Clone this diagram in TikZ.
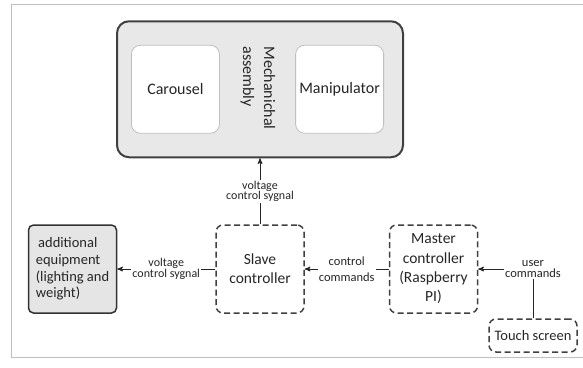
\documentclass[tikz,border=0pt]{standalone}
\usepackage{fontspec}
\setmainfont{Carlito}
\usetikzlibrary{arrows,positioning}
\tikzset{
    %Define standard arrow tip
    >=stealth',
    %Define style for the solid grey boxes
    block/.style={
           rectangle,
           rounded corners=5pt,
           draw=black!80, line width=1.5pt,
           fill=black!10,
           minimum width=88pt,
           minimum height=88pt,
           font=\fontsize{14.5}{16.7}\selectfont,
           text=black!85,
           align=left},
    frame/.style={
           rectangle,
           rounded corners=12pt,
           draw=black!75, line width=2pt,
           fill=black!9,
           minimum width=286pt,
           minimum height=136pt},
    inner/.style={
           rectangle,
           rounded corners=9pt,
           draw=black!25, line width=0.8pt,
           fill=white,
           minimum width=88pt,
           minimum height=88pt,
           font=\fontsize{16}{19}\selectfont,
           text=black!85,
           text centered},
    %Define style for the dashed boxes
    dashbox/.style={
           rectangle,
           rounded corners=7pt,
           draw=black!75, line width=1.5pt,
           dash pattern=on 6pt off 3.5pt,
           minimum width=88pt,
           minimum height=88pt,
           font=\fontsize{15.5}{19.3}\selectfont,
           text=black!85,
           align=center},
    % Define style for connector labels
    lbl/.style={
           fill=white,
           inner sep=1pt,
           font=\fontsize{12}{10.5}\selectfont,
           text=black!85,
           align=center},
    % Define arrow style
    pil/.style={
           ->,
           line width=1pt,
           black!85}
}
\begin{document}
\begin{tikzpicture}[x=1pt,y=-1pt]
\useasboundingbox (0,0) rectangle (583,367);
\draw[black!25, line width=1pt] (583,4) -- (11,4) -- (11,357) -- (583,357);
% controllers row
\node[dashbox](slave) at (260,269){Slave\\controller};
\node[dashbox, right=84pt of slave](master){Master\\controller\\(Raspberry\\PI)};
\node[block, left=98pt of slave](equip){\,additional\\equipment\\(lighting and\\weight)};
% mechanical part
\node[frame, above=66pt of slave](assembly){};
\node[inner, right=15pt of assembly.west](carousel){Carousel};
\node[inner, left=20pt of assembly.east](manip){Manipulator};
\node[rotate=-90, align=left, text=black!85,
  font=\fontsize{16}{21}\selectfont](mech) at (258,88){Mechanichal\\assembly};
% user input
\node[dashbox, minimum height=33pt, font=\fontsize{14.5}{17}\selectfont](touch) at (533,335.5){Touch screen};
\node[lbl, font=\fontsize{12.5}{11}\selectfont](user) at (touch |- master){user\\commands};
 \path
    (slave) edge[pil] node[lbl]{voltage\\control sygnal} (assembly)
    (slave) edge[pil] node[lbl]{voltage\\control sygnal} (equip)
    (master) edge[pil] node[lbl, font=\fontsize{12.5}{15.5}\selectfont]{control\\commands} (slave)
    (user) edge[pil] (master)
    (touch) edge[line width=1pt, black!85] (user);
\end{tikzpicture}
\end{document}
